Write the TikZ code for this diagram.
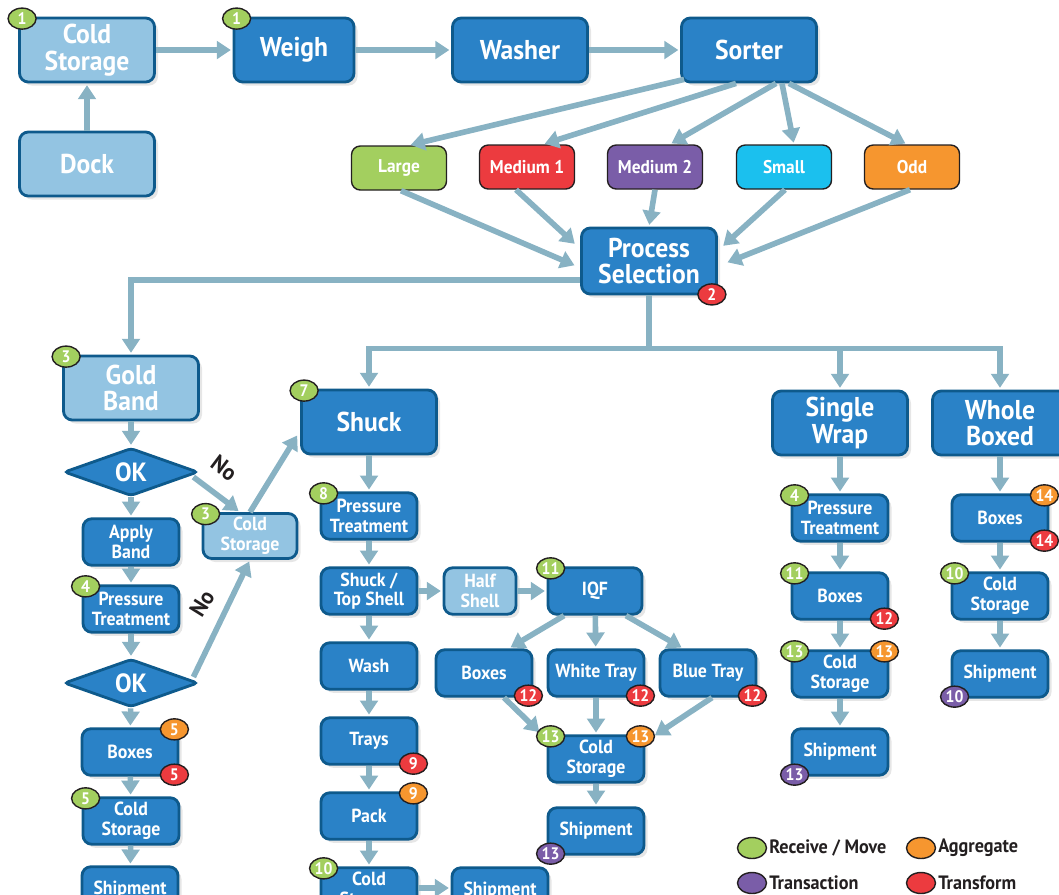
\documentclass[tikz,border=0pt]{standalone}
\usepackage{fontspec}
\setmainfont[FakeStretch=0.94]{PT Sans}
\usetikzlibrary{arrows.meta,shapes.geometric,shadows}

\definecolor{procblue}{HTML}{2A82C7}
\definecolor{procedge}{HTML}{0E5A8C}
\definecolor{storeblue}{HTML}{93C4E2}
\definecolor{flowline}{HTML}{88B2C3}
\definecolor{recvgreen}{HTML}{A3CF5F}
\definecolor{aggorange}{HTML}{F6962F}
\definecolor{transpurple}{HTML}{7A5DA8}
\definecolor{formred}{HTML}{EC3B3F}
\definecolor{smallcyan}{HTML}{1BC0EE}
\definecolor{inkgray}{HTML}{231F20}

\begin{document}
\begin{tikzpicture}[x=0.02cm,y=-0.02cm,
  proc/.style={draw=procedge,line width=1.6pt,fill=procblue,text=white,rounded corners=5pt,
    align=center,inner sep=1pt,drop shadow={opacity=0.2,shadow xshift=2pt,shadow yshift=-2pt}},
  store/.style={proc,fill=storeblue},
  big/.style={minimum width=2.7cm,minimum height=1.28cm,font=\bfseries\fontsize{15.5}{15}\selectfont},
  small/.style={minimum width=1.92cm,minimum height=0.93cm,font=\bfseries\fontsize{10.8}{11.2}\selectfont},
  grade/.style={draw=inkgray,line width=0.8pt,fill=#1,text=white,rounded corners=5pt,
    minimum width=1.9cm,minimum height=0.88cm,font=\bfseries\fontsize{10.5}{11}\selectfont},
  check/.style={diamond,aspect=2.8,draw=procedge,line width=1.6pt,fill=procblue,text=white,
    minimum width=2.68cm,minimum height=0.96cm,inner sep=0pt,rounded corners=2pt,
    font=\bfseries\fontsize{15}{15}\selectfont},
  badge/.style={ellipse,draw=inkgray,line width=0.8pt,fill=#1,text=white,minimum width=0.56cm,
    minimum height=0.42cm,inner sep=0pt,font=\bfseries\fontsize{9.5}{9.5}\selectfont},
  flow/.style={draw=flowline,line width=3.2pt,-{Triangle[width=10pt,length=8pt]},shorten >=1pt},
  legendkey/.style={ellipse,draw=inkgray,line width=0.8pt,fill=#1,minimum width=0.58cm,minimum height=0.42cm},
  keytext/.style={text=inkgray,anchor=west,inner sep=1pt,font=\bfseries\fontsize{11}{11}\selectfont},
  nolabel/.style={text=inkgray,font=\bfseries\fontsize{13}{13}\selectfont}]
\useasboundingbox (0,0) rectangle (1059,894);

% receiving and sorting
\node[store,big] (coldtop) at (87,50) {Cold\\Storage};
\node[store,big] (dock) at (87,164) {Dock};
\node[proc,big,minimum width=2.4cm] (weigh) at (294,50) {Weigh};
\node[proc,big] (washer) at (520,50) {Washer};
\node[proc,big] (sorter) at (749,50) {Sorter};

\node[grade=recvgreen] (large) at (399,168) {Large};
\node[grade=formred] (med1) at (527,167) {Medium 1};
\node[grade=transpurple] (med2) at (655,167) {Medium 2};
\node[grade=smallcyan] (small) at (784,167) {Small};
\node[grade=aggorange] (odd) at (912,167) {Odd};

\node[proc,big,minimum height=1.32cm] (select) at (649,261) {Process\\Selection};

% gold band branch
\node[store,big] (gold) at (131,388) {Gold\\Band};
\node[check] (ok1) at (131,472) {OK};
\node[proc,small] (apply) at (131,542) {Apply\\Band};
\node[proc,small] (pt1) at (131,609) {Pressure\\Treatment};
\node[check] (ok2) at (131,683) {OK};
\node[proc,small] (boxL) at (130,752) {Boxes};
\node[proc,small] (csL) at (131,821) {Cold\\Storage};
\node[proc,small] (shipL) at (130,890) {Shipment};
\node[store,small,minimum width=1.88cm,minimum height=0.9cm] (cs2) at (250,536) {Cold\\Storage};
\node[nolabel,rotate=-37] (no1) at (224,468) {No};
\node[nolabel,rotate=58] (no2) at (202,603) {No};

% shuck branch
\node[proc,big] (shuck) at (369,422) {Shuck};
\node[proc,small] (pt2) at (369,516) {Pressure\\Treatment};
\node[proc,small] (sts) at (369,591) {Shuck /\\Top Shell};
\node[store,small,minimum width=1.44cm] (half) at (480,591) {Half\\Shell};
\node[proc,small,minimum width=1.88cm] (iqf) at (595,591) {IQF};
\node[proc,small] (wash) at (369,666) {Wash};
\node[proc,small] (trays) at (369,741) {Trays};
\node[proc,small] (pack) at (369,816) {Pack};
\node[proc,small] (csM) at (369,891) {Cold\\Storage};
\node[proc,small] (shipM) at (500,891) {Shipment};
\node[proc,small] (boxI) at (484,673) {Boxes};
\node[proc,small] (white) at (596,673) {White Tray};
\node[proc,small] (blue) at (708,673) {Blue Tray};
\node[proc,small] (csI) at (596,759) {Cold\\Storage};
\node[proc,small] (shipI) at (596,831) {Shipment};

% single wrap and whole boxed
\node[proc,big] (single) at (840,423) {Single\\Wrap};
\node[proc,small] (ptS) at (840,518) {Pressure\\Treatment};
\node[proc,small] (boxS) at (840,596) {Boxes};
\node[proc,small] (csS) at (840,674) {Cold\\Storage};
\node[proc,small] (shipS) at (840,752) {Shipment};
\node[proc,big] (whole) at (1000,423) {Whole\\Boxed};
\node[proc,small] (boxW) at (1000,518) {Boxes};
\node[proc,small] (csW) at (1000,596) {Cold\\Storage};
\node[proc,small] (shipW) at (1000,674) {Shipment};

% connectors
\draw[flow] (dock) -- (coldtop);
\draw[flow] (coldtop) -- (weigh);
\draw[flow] (weigh) -- (washer);
\draw[flow] (washer) -- (sorter);
\draw[flow] ([shift={(4,-4)}]sorter.south west) -- ([xshift=0.2cm]large.north);
\draw[flow] ([xshift=-0.26cm]sorter.south) -- ([xshift=0.32cm]med1.north);
\draw[flow] ([xshift=0.54cm]sorter.south) -- ([xshift=0.3cm]med2.north);
\draw[flow] ([xshift=0.66cm]sorter.south) -- ([xshift=0.2cm]small.north);
\draw[flow] ([xshift=0.8cm]sorter.south) -- ([xshift=-0.1cm]odd.north);
\draw[flow] ([xshift=0.04cm]large.south) -- ([shift={(-4,5)}]select.west);
\draw[flow] ([xshift=-0.22cm]med1.south) -- ([shift={(-4,-16)}]select.west);
\draw[flow] (med2.south) -- (select.north);
\draw[flow] ([xshift=0.02cm]small.south) -- ([shift={(4,-14)}]select.east);
\draw[flow] ([xshift=-0.04cm]odd.south) -- ([shift={(8,2)}]select.east);

\draw[flow] ([yshift=-0.38cm]select.west) -| (gold.north);
\coordinate (bus) at ([yshift=-1.06cm]select.south);
\draw[draw=flowline,line width=3.2pt] (select.south) -- (bus);
\draw[flow] (bus) -| (shuck.north);
\draw[flow] (bus) -| (single.north);
\draw[flow] (bus) -| (whole.north);

\draw[flow] (gold) -- (ok1);
\draw[flow] (ok1) -- (apply);
\draw[flow] (apply) -- (pt1);
\draw[flow] (pt1) -- (ok2);
\draw[flow] (ok2) -- (boxL);
\draw[flow] (boxL) -- (csL);
\draw[flow] (csL) -- (shipL);
\draw[flow] ([shift={(-6,5)}]ok1.east) -- ([xshift=-0.2cm]cs2.north);
\draw[flow] ([shift={(-6,-6)}]ok2.east) -- (cs2.south);
\draw[flow] (cs2.north) -- ([shift={(-2,12)}]shuck.west);

\draw[flow] (shuck) -- (pt2);
\draw[flow] (pt2) -- (sts);
\draw[flow] (sts) -- (half);
\draw[flow] (half) -- (iqf);
\draw[flow] (sts) -- (wash);
\draw[flow] (wash) -- (trays);
\draw[flow] (trays) -- (pack);
\draw[flow] (pack) -- (csM);
\draw[flow] ([yshift=0.06cm]csM.east) -- ([yshift=0.06cm]shipM.west);
\draw[flow] ([xshift=-0.62cm]iqf.south) -- ([xshift=0.5cm]boxI.north);
\draw[flow] (iqf) -- (white);
\draw[flow] ([xshift=0.62cm]iqf.south) -- ([xshift=-0.5cm]blue.north);
\draw[flow] ([xshift=0.4cm]boxI.south) -- ([shift={(-6,-1)}]csI.north west);
\draw[flow] (white) -- (csI);
\draw[flow] ([xshift=0.08cm]blue.south) -- ([shift={(8,2)}]csI.north east);
\draw[flow] (csI) -- (shipI);

\draw[flow] (single) -- (ptS);
\draw[flow] (ptS) -- (boxS);
\draw[flow] (boxS) -- (csS);
\draw[flow] (csS) -- (shipS);
\draw[flow] (whole) -- (boxW);
\draw[flow] (boxW) -- (csW);
\draw[flow] (csW) -- (shipW);

% badges
\node[badge=recvgreen] (n-coldtop) at ([shift={(4,2)}]coldtop.north west) {1};
\node[badge=recvgreen] (n-weigh) at ([shift={(4,2)}]weigh.north west) {1};
\node[badge=formred] (n-select) at ([shift={(-6,-1)}]select.south east) {2};
\node[badge=recvgreen] (n-gold) at ([shift={(4,2)}]gold.north west) {3};
\node[badge=recvgreen] (n-cs2) at ([shift={(4,2)}]cs2.north west) {3};
\node[badge=recvgreen] (n-pt1) at ([shift={(4,2)}]pt1.north west) {4};
\node[badge=aggorange] (n-boxL-a) at ([shift={(-5,2)}]boxL.north east) {5};
\node[badge=formred] (n-boxL-t) at ([shift={(-5,-2)}]boxL.south east) {5};
\node[badge=recvgreen] (n-csL) at ([shift={(4,2)}]csL.north west) {5};
\node[badge=recvgreen] (n-shuck) at ([shift={(4,2)}]shuck.north west) {7};
\node[badge=recvgreen] (n-pt2) at ([shift={(4,2)}]pt2.north west) {8};
\node[badge=recvgreen] (n-iqf) at ([shift={(4,2)}]iqf.north west) {11};
\node[badge=formred] (n-trays) at ([shift={(-5,-2)}]trays.south east) {9};
\node[badge=aggorange] (n-pack) at ([shift={(-5,2)}]pack.north east) {9};
\node[badge=recvgreen] (n-csM) at ([shift={(4,2)}]csM.north west) {10};
\node[badge=formred] (n-boxI) at ([shift={(-5,-2)}]boxI.south east) {12};
\node[badge=formred] (n-white) at ([shift={(-5,-2)}]white.south east) {12};
\node[badge=formred] (n-blue) at ([shift={(-5,-2)}]blue.south east) {12};
\node[badge=recvgreen] (n-csI-r) at ([shift={(4,2)}]csI.north west) {13};
\node[badge=aggorange] (n-csI-a) at ([shift={(-5,2)}]csI.north east) {13};
\node[badge=transpurple] (n-shipI) at ([shift={(4,-2)}]shipI.south west) {13};
\node[badge=recvgreen] (n-ptS) at ([shift={(4,2)}]ptS.north west) {4};
\node[badge=recvgreen] (n-boxS-r) at ([shift={(4,2)}]boxS.north west) {11};
\node[badge=formred] (n-boxS-t) at ([shift={(-5,-2)}]boxS.south east) {12};
\node[badge=recvgreen] (n-csS-r) at ([shift={(4,2)}]csS.north west) {13};
\node[badge=aggorange] (n-csS-a) at ([shift={(-5,2)}]csS.north east) {13};
\node[badge=transpurple] (n-shipS) at ([shift={(4,-2)}]shipS.south west) {13};
\node[badge=aggorange] (n-boxW-a) at ([shift={(-5,2)}]boxW.north east) {14};
\node[badge=formred] (n-boxW-t) at ([shift={(-5,-2)}]boxW.south east) {14};
\node[badge=recvgreen] (n-csW) at ([shift={(4,2)}]csW.north west) {10};
\node[badge=transpurple] (n-shipW) at ([shift={(4,-2)}]shipW.south west) {10};

% legend
\node[legendkey=recvgreen] (k-recv) at (752,848) {};
\node[keytext] (t-recv) at (k-recv.east) {Receive / Move};
\node[legendkey=aggorange] (k-agg) at (921,848) {};
\node[keytext] (t-agg) at (k-agg.east) {Aggregate};
\node[legendkey=transpurple] (k-trans) at (752,883) {};
\node[keytext] (t-trans) at (k-trans.east) {Transaction};
\node[legendkey=formred] (k-form) at (921,883) {};
\node[keytext] (t-form) at (k-form.east) {Transform};
\end{tikzpicture}
\end{document}
